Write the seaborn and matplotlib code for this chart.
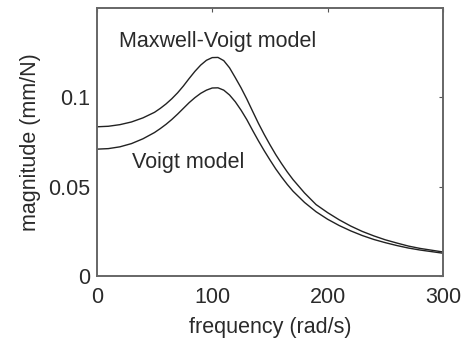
import pandas as pd
import numpy as np
import seaborn as sns
import matplotlib.pyplot as plt

freq = [0, 10, 20, 30, 40, 50, 55, 60, 65, 70, 75, 80, 85, 90, 95, 100, 105, 110,
        115, 120, 125, 130, 135, 140, 145, 150, 155, 160, 165, 170, 180, 190, 200,
        210, 220, 230, 240, 250, 260, 270, 280, 290, 300]
maxwell_voigt = [0.0835, 0.0838, 0.0847, 0.0862, 0.0885, 0.0916, 0.0938, 0.0963,
                 0.0992, 0.1025, 0.1063, 0.1105, 0.1145, 0.1180, 0.1207, 0.1222,
                 0.1223, 0.1205, 0.1165, 0.1110, 0.1053, 0.0990, 0.0922, 0.0855,
                 0.0793, 0.0735, 0.0680, 0.0630, 0.0583, 0.0540, 0.0465, 0.0400,
                 0.0355, 0.0315, 0.0280, 0.0250, 0.0225, 0.0203, 0.0185, 0.0168,
                 0.0155, 0.0145, 0.0135]
voigt = [0.0710, 0.0713, 0.0723, 0.0741, 0.0768, 0.0803, 0.0825, 0.0849,
         0.0876, 0.0906, 0.0938, 0.0970, 0.0998, 0.1022, 0.1040, 0.1052,
         0.1053, 0.1040, 0.1013, 0.0975, 0.0928, 0.0875, 0.0815, 0.0757,
         0.0702, 0.0650, 0.0600, 0.0555, 0.0513, 0.0475, 0.0412, 0.0360,
         0.0318, 0.0283, 0.0253, 0.0227, 0.0205, 0.0187, 0.0171, 0.0157,
         0.0146, 0.0137, 0.0128]

sns.set_style('white')
plt.rcParams['font.family'] = ['Liberation Sans', 'DejaVu Sans']

fig = plt.figure(figsize=(4.61, 3.43), dpi=100)
ax = fig.add_axes([0.21, 0.195, 0.751, 0.782])

sns.lineplot(x=freq, y=maxwell_voigt, ax=ax, color='#222222', linewidth=1.0)
sns.lineplot(x=freq, y=voigt, ax=ax, color='#222222', linewidth=1.0)

txt = '#2a2a2a'
ax.text(105, 0.131, 'Maxwell-Voigt model', ha='center', va='center', fontsize=15.5, color=txt)
ax.text(79, 0.0635, 'Voigt model', ha='center', va='center', fontsize=15.5, color=txt)

ax.set_xlim(0, 300)
ax.set_ylim(0, 0.15)
ax.set_xticks([0, 100, 200, 300])
ax.set_xticklabels(['0', '100', '200', '300'])
ax.set_yticks([0, 0.05, 0.1])
ax.set_yticklabels(['0', '0.05', '0.1'])
ax.tick_params(direction='in', length=3, width=0.8, color='#555555', labelsize=15.5,
               labelcolor=txt, top=True, right=True)
ax.tick_params(axis='x', pad=8)
ax.tick_params(axis='y', pad=5)
for s in ax.spines.values():
    s.set_color('#666666')
    s.set_linewidth(1.4)
ax.set_xlabel('frequency (rad/s)', fontsize=15.5, color=txt, labelpad=6)
ax.set_ylabel('magnitude (mm/N)', fontsize=15.5, color=txt, labelpad=5)

fig.savefig('out.png', dpi=100)
